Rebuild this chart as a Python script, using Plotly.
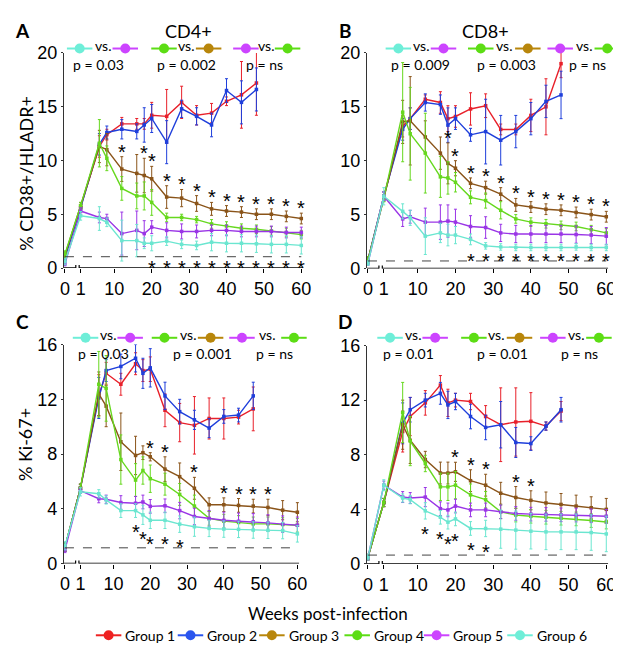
import plotly.graph_objects as go

W, H = 621, 646

# ---------------- data ----------------
weeks = [0, 1, 6, 8, 12, 16, 18, 20, 24, 28, 32, 36, 40, 44, 48, 52, 56, 60]
weeks_g12 = weeks[:15]          # groups 1 and 2 followed to week 48
tick_weeks = [0, 1, 10, 20, 30, 40, 50, 60]
group_names = ["Group 1", "Group 2", "Group 3", "Group 4", "Group 5", "Group 6"]

# Panel A : CD4+  % CD38+/HLADR+
a_g1 = [1.0, 5.6, 11.3, 12.4, 13.4, 13.4, 13.4, 14.2, 14.1, 15.4, 14.2, 14.4, 15.5, 16.1, 17.2]
a_g1_err = [0.3, 0.3, 1.0, 0.5, 0.6, 0.5, 0.5, 1.2, 2.5, 1.5, 0.9, 0.9, 0.4, 3.1, 3.0]
a_g2 = [1.0, 5.6, 11.5, 12.6, 12.9, 12.7, 13.3, 13.9, 11.7, 14.8, 14.1, 13.3, 16.5, 15.4, 16.6]
a_g2_err = [0.3, 0.3, 1.0, 0.6, 0.9, 0.7, 1.6, 1.3, 2.0, 0.8, 0.8, 1.1, 1.1, 2.0, 2.0]
a_g3 = [1.2, 5.8, 11.3, 11.0, 9.2, 8.8, 8.6, 8.3, 6.6, 6.5, 6.0, 5.5, 5.3, 5.2, 5.0, 5.0, 4.8, 4.6]
a_g3_err = [0.3, 0.3, 1.5, 1.5, 1.15, 1.75, 1.6, 1.15, 1.05, 0.8, 0.73, 0.6, 0.5, 0.5, 0.5, 0.5, 0.5, 0.5]
a_g4 = [1.3, 5.8, 11.6, 10.2, 7.4, 6.7, 6.7, 6.1, 4.7, 4.7, 4.5, 4.1, 3.9, 3.7, 3.6, 3.45, 3.3, 3.1]
a_g4_err = [0.3, 0.3, 2.2, 1.15, 1.1, 1.2, 1.3, 1.2, 0.4, 0.3, 0.3, 0.4, 0.4, 0.4, 0.4, 0.4, 0.4, 0.4]
a_g5 = [0.4, 5.3, 4.7, 4.6, 3.2, 3.5, 3.2, 3.8, 3.5, 3.4, 3.4, 3.5, 3.5, 3.4, 3.4, 3.4, 3.3, 3.3]
a_g5_err = [0.2, 0.3, 0.5, 0.4, 2.0, 1.8, 1.2, 0.6, 0.7, 0.7, 0.6, 0.5, 0.5, 0.5, 0.5, 0.5, 0.5, 0.5]
a_g6 = [0.6, 4.85, 4.6, 4.25, 2.55, 2.55, 2.3, 2.3, 2.5, 2.2, 2.1, 2.4, 2.3, 2.3, 2.25, 2.2, 2.2, 2.1]
a_g6_err = [0.3, 0.4, 1.1, 0.4, 1.9, 1.5, 0.5, 0.7, 0.4, 0.4, 0.4, 0.8, 0.8, 0.8, 0.8, 0.8, 0.8, 0.8]

# Panel B : CD8+  % CD38+/HLADR+
b_g1 = [0.8, 6.7, 13.2, 13.9, 15.7, 15.4, 13.9, 14.1, 14.8, 15.1, 12.9, 12.9, 14.2, 15.0, 19.0]
b_g1_err = [0.3, 0.4, 1.0, 1.0, 0.4, 1.0, 1.2, 1.0, 1.5, 1.1, 0.5, 0.5, 1.5, 2.6, 1.3]
b_g2 = [0.8, 6.7, 12.9, 13.9, 15.4, 15.2, 13.3, 13.9, 12.4, 12.7, 11.9, 12.7, 13.9, 15.5, 16.1]
b_g2_err = [0.3, 0.4, 1.0, 1.0, 0.8, 0.9, 1.6, 1.0, 0.6, 3.0, 2.3, 1.5, 1.5, 1.5, 2.2]
b_g3 = [0.8, 6.5, 13.6, 13.7, 12.2, 10.7, 9.75, 9.3, 7.9, 7.5, 6.9, 5.9, 5.7, 5.5, 5.4, 5.2, 5.0, 4.8]
b_g3_err = [0.3, 0.3, 2.0, 4.1, 1.5, 1.5, 1.9, 0.7, 0.5, 0.6, 0.6, 0.6, 0.5, 0.5, 0.5, 0.5, 0.5, 0.5]
b_g4 = [0.8, 6.5, 14.5, 12.5, 10.7, 8.5, 8.4, 8.0, 6.6, 6.3, 5.4, 4.6, 4.3, 4.15, 4.0, 3.9, 3.6, 3.3]
b_g4_err = [0.3, 0.3, 4.6, 4.3, 3.7, 1.9, 1.5, 0.9, 0.6, 0.7, 0.8, 0.4, 0.4, 0.4, 0.4, 0.4, 0.4, 0.4]
b_g5 = [0.5, 6.7, 4.6, 4.8, 4.3, 4.3, 4.4, 4.3, 3.9, 3.8, 3.3, 3.2, 3.2, 3.2, 3.2, 3.15, 3.1, 3.0]
b_g5_err = [0.2, 0.4, 0.7, 0.6, 1.3, 1.6, 1.5, 1.2, 1.0, 1.0, 0.8, 0.8, 0.8, 0.8, 0.8, 0.8, 0.8, 0.8]
b_g6 = [0.5, 6.7, 5.3, 4.7, 3.0, 3.3, 3.1, 3.1, 2.7, 2.1, 2.0, 1.95, 1.95, 1.95, 1.95, 2.0, 1.95, 1.95]
b_g6_err = [0.2, 0.8, 0.7, 0.7, 1.7, 0.9, 1.0, 0.8, 0.5, 0.3, 0.3, 0.3, 0.3, 0.3, 0.3, 0.3, 0.3, 0.3]

# Panel C : CD4+  % Ki-67+
c_g1 = [1.2, 5.5, 12.3, 13.9, 13.1, 14.6, 14.1, 14.2, 11.2, 10.3, 10.1, 10.6, 10.6, 10.7, 11.3]
c_g1_err = [0.3, 0.3, 1.5, 0.8, 0.8, 0.8, 0.8, 0.9, 1.2, 1.4, 2.1, 1.5, 1.5, 0.5, 1.6]
c_g2 = [1.2, 5.5, 12.1, 14.1, 14.4, 15.0, 13.9, 14.3, 12.25, 11.1, 10.5, 9.9, 10.75, 10.85, 12.25]
c_g2_err = [0.3, 0.3, 1.5, 0.8, 0.9, 1.0, 1.1, 1.4, 1.0, 0.9, 0.7, 0.7, 0.5, 0.5, 1.0]
c_g3 = [1.2, 5.5, 12.4, 11.5, 8.9, 7.9, 8.1, 7.8, 6.9, 6.35, 5.5, 4.3, 4.3, 4.25, 4.2, 4.1, 3.9, 3.75]
c_g3_err = [0.3, 0.3, 1.6, 1.5, 2.1, 1.4, 0.5, 0.3, 0.9, 1.0, 0.8, 0.5, 0.5, 0.5, 0.5, 0.6, 0.7, 0.7]
c_g4 = [1.2, 5.5, 13.1, 12.8, 7.6, 6.1, 6.8, 6.2, 5.8, 5.05, 4.2, 3.3, 3.1, 3.0, 2.9, 2.9, 2.85, 2.8]
c_g4_err = [0.3, 0.3, 2.4, 2.4, 1.8, 1.2, 1.0, 1.0, 0.8, 0.8, 0.8, 0.5, 0.5, 0.5, 0.5, 0.5, 0.5, 0.5]
c_g5 = [1.0, 5.33, 4.74, 4.7, 4.46, 4.41, 4.5, 4.18, 4.22, 3.87, 3.44, 3.28, 3.16, 3.09, 3.05, 2.97, 2.88, 2.8]
c_g5_err = [0.2, 0.2, 0.3, 0.3, 0.5, 0.5, 0.5, 0.5, 0.5, 0.6, 0.6, 0.6, 0.6, 0.6, 0.6, 0.6, 0.6, 0.6]
c_g6 = [1.3, 5.24, 5.1, 4.65, 3.87, 3.87, 3.56, 3.16, 3.16, 2.88, 2.69, 2.57, 2.52, 2.5, 2.45, 2.43, 2.41, 2.17]
c_g6_err = [0.3, 0.3, 0.3, 0.3, 0.5, 0.5, 0.7, 0.6, 0.6, 0.6, 0.7, 0.6, 0.6, 0.6, 0.6, 0.6, 0.6, 0.6]

# Panel D : CD8+  % Ki-67+
d_g1 = [0.5, 4.5, 9.7, 10.8, 11.8, 13.1, 11.8, 12.0, 11.9, 10.8, 10.2, 10.4, 10.45, 10.1, 11.2]
d_g1_err = [0.2, 0.3, 1.5, 1.4, 0.9, 0.7, 1.0, 0.5, 0.6, 0.8, 2.7, 2.5, 2.1, 0.3, 0.7]
d_g2 = [0.5, 4.5, 10.3, 11.3, 12.0, 12.5, 11.65, 11.9, 10.8, 10.0, 10.2, 8.9, 8.82, 10.1, 11.3]
d_g2_err = [0.2, 0.3, 1.5, 0.9, 0.5, 0.8, 1.0, 0.6, 0.9, 0.9, 1.7, 1.1, 0.5, 0.3, 0.9]
d_g3 = [0.5, 4.5, 10.2, 9.06, 7.65, 6.66, 6.66, 6.75, 6.1, 5.77, 5.18, 4.87, 4.66, 4.47, 4.36, 4.24, 4.12, 4.0]
d_g3_err = [0.2, 0.3, 1.8, 1.7, 0.6, 0.8, 0.8, 0.7, 0.8, 0.8, 0.8, 0.8, 0.7, 0.8, 0.8, 0.8, 0.8, 0.8]
d_g4 = [0.5, 4.5, 11.1, 9.0, 7.36, 5.65, 5.65, 5.77, 5.06, 4.71, 3.82, 3.58, 3.49, 3.42, 3.35, 3.3, 3.18, 3.07]
d_g4_err = [0.2, 0.3, 2.2, 1.8, 0.6, 1.0, 1.0, 1.0, 0.8, 0.6, 0.5, 0.5, 0.5, 0.5, 0.5, 0.5, 0.5, 0.5]
d_g5 = [0.5, 5.77, 4.9, 4.83, 4.9, 4.05, 3.96, 4.24, 3.96, 3.96, 3.82, 3.7, 3.65, 3.63, 3.6, 3.58, 3.53, 3.49]
d_g5_err = [0.2, 0.3, 0.4, 0.4, 0.7, 0.5, 0.5, 0.5, 0.5, 0.5, 0.5, 0.5, 0.5, 0.5, 0.5, 0.5, 0.5, 0.5]
d_g6 = [0.5, 5.77, 4.83, 4.71, 3.89, 3.42, 3.06, 3.3, 2.6, 2.6, 2.55, 2.48, 2.4, 2.35, 2.35, 2.35, 2.3, 2.2]
d_g6_err = [0.2, 0.4, 0.3, 0.3, 0.6, 0.5, 0.5, 0.5, 0.5, 0.6, 1.4, 1.4, 1.3, 1.3, 1.3, 1.3, 1.3, 1.3]

# weeks with significant differences (asterisks)
a_star_up = [12, 18, 20, 24, 28, 32, 36, 40, 44, 48, 52, 56, 60]
a_star_low = [20, 24, 28, 32, 36, 40, 44, 48, 52, 56, 60]
b_star_up = [18, 20, 24, 28, 32, 36, 40, 44, 48, 52, 56, 60]
b_star_low = [24, 28, 32, 36, 40, 44, 48, 52, 56, 60]
c_star_up = [20, 24, 32, 40, 44, 48, 52]
c_star_low = [16, 18, 20, 24, 28]
d_star_up = [20, 24, 28, 36, 40]
d_star_low = [12, 16, 18, 20, 24, 28]

# detection limit (dashed line)
baselines = [1.05, 0.7, 1.15, 0.65]

# comparisons shown at top of each panel
a_pvals = ["p = 0.03", "p = 0.002", "p = ns"]
b_pvals = ["p = 0.009", "p = 0.003", "p = ns"]
c_pvals = ["p = 0.03", "p = 0.001", "p = ns"]
d_pvals = ["p = 0.01", "p = 0.01", "p = ns"]
comparisons = [(6, 5), (4, 3), (5, 4)]

# ---------------- styles ----------------
line_colors = ["#e8202a", "#1f3fdb", "#8a5419", "#66d81e", "#9a35e6", "#6be6d0"]
key_colors = ["#ee2222", "#2a55ee", "#b8860b", "#5cdd14", "#cc44ff", "#6eeed8"]
TXT = "Lato, 'Noto Sans', sans-serif"
NUM = "'Liberation Sans Narrow', 'Liberation Sans', Arial, sans-serif"
STAR = "'Liberation Sans', Arial, sans-serif"

X0 = -3.2  # plotting position of week 0 (broken axis)


def xpos(w):
    return X0 if w == 0 else w


def px(x):
    return x / W


def py(y):
    return 1 - y / H


panels = [
    dict(letter="A", title="CD4+", means=[a_g1, a_g2, a_g3, a_g4, a_g5, a_g6],
         errs=[a_g1_err, a_g2_err, a_g3_err, a_g4_err, a_g5_err, a_g6_err],
         up=a_star_up, low=a_star_low, low_mode="level", low_level=0.5,
         ymax=20, ytv=[0, 5, 10, 15, 20], pv=a_pvals,
         box=(54, 295, 258, 36), row=31.5, prow=48,
         keys=[(69, 115.5, 92.5, 88), (155, 200.5, 177.5, 178), (238.5, 281, 259, 257)]),
    dict(letter="B", title="CD8+", means=[b_g1, b_g2, b_g3, b_g4, b_g5, b_g6],
         errs=[b_g1_err, b_g2_err, b_g3_err, b_g4_err, b_g5_err, b_g6_err],
         up=b_star_up, low=b_star_low, low_mode="level", low_level=1.2,
         ymax=20, ytv=[0, 5, 10, 15, 20], pv=b_pvals,
         box=(363, 606, 258.5, 36), row=31.5, prow=48,
         keys=[(394, 440, 417, 417), (478, 526, 502, 504), (559, 607, 583, 587)]),
    dict(letter="C", title=None, means=[c_g1, c_g2, c_g3, c_g4, c_g5, c_g6],
         errs=[c_g1_err, c_g2_err, c_g3_err, c_g4_err, c_g5_err, c_g6_err],
         up=c_star_up, low=c_star_low, low_mode="below", low_level=None,
         ymax=16, ytv=[0, 4, 8, 12, 16], pv=c_pvals,
         box=(54, 291, 563, 337), row=330, prow=346.5,
         keys=[(75, 120.5, 98, 93), (155.5, 202.5, 179, 194), (234.5, 287.5, 260, 268)]),
    dict(letter="D", title=None, means=[d_g1, d_g2, d_g3, d_g4, d_g5, d_g6],
         errs=[d_g1_err, d_g2_err, d_g3_err, d_g4_err, d_g5_err, d_g6_err],
         up=d_star_up, low=d_star_low, low_mode="below", low_level=None,
         ymax=16, ytv=[0, 4, 8, 12, 16], pv=d_pvals,
         box=(363, 606, 563.4, 338), row=330, prow=346.5,
         keys=[(385.5, 431.5, 408.5, 404), (471, 517.5, 494, 500), (551.5, 598.5, 575, 579)]),
]

fig = go.Figure()
layout = dict(width=W, height=H, margin=dict(l=0, r=0, t=0, b=0),
              paper_bgcolor="white", plot_bgcolor="white", showlegend=False)
shapes, annotations = [], []

for i, p in enumerate(panels):
    n = "" if i == 0 else str(i + 1)
    xa, ya = "x" + n, "y" + n
    x0p, x60p, y0p, ytp = p["box"]
    scale = (x60p - x0p) / (60 - X0)
    layout["xaxis" + n] = dict(
        domain=[px(x0p - 0.25 * scale), px(x60p + 0.5 * scale)],
        range=[X0 - 0.25, 60.5], anchor=ya, showgrid=False, zeroline=False,
        showline=False, tickmode="array", tickvals=[xpos(w) for w in tick_weeks],
        ticktext=[str(w) for w in tick_weeks], ticks="outside", ticklen=4,
        tickcolor="black", tickfont=dict(family=NUM, size=18, color="black"))
    layout["yaxis" + n] = dict(
        domain=[py(y0p), py(ytp)], range=[0, p["ymax"]], anchor=xa,
        showgrid=False, zeroline=False, showline=True, linecolor="#333", linewidth=1.4,
        tickmode="array", tickvals=p["ytv"], ticks="outside", ticklen=2,
        tickcolor="#333", tickfont=dict(family=NUM, size=18, color="black"))

    # data traces
    for g in range(6):
        wk = weeks_g12 if g < 2 else weeks
        fig.add_trace(go.Scatter(
            x=[xpos(w) for w in wk], y=p["means"][g], xaxis=xa, yaxis=ya,
            mode="lines+markers", name=group_names[g], cliponaxis=False,
            line=dict(color=line_colors[g], width=1.4),
            marker=dict(color=line_colors[g], size=3.5, symbol="square"),
            error_y=dict(type="data", array=p["errs"][g], visible=True,
                         color=line_colors[g], thickness=1, width=1.5)))

    # broken x axis line
    shapes.append(dict(type="line", xref=xa, yref=ya, x0=X0 - 0.25, x1=-0.3, y0=0, y1=0,
                       line=dict(color="black", width=1.4)))
    shapes.append(dict(type="line", xref=xa, yref=ya, x0=0.6, x1=60.5, y0=0, y1=0,
                       line=dict(color="black", width=1.4)))
    for xb in (-0.3, 0.6):
        shapes.append(dict(type="line", xref=xa, yref=ya, ysizemode="pixel", yanchor=0,
                           x0=xb, x1=xb, y0=-4, y1=3, line=dict(color="black", width=1.2)))
    # detection limit
    shapes.append(dict(type="line", xref=xa, yref=ya, x0=X0, x1=60, y0=baselines[i],
                       y1=baselines[i], line=dict(color="#444", width=1, dash="dash")))

    # asterisks
    up_mean, up_err = p["means"][2], p["errs"][2]
    for w in p["up"]:
        k = weeks.index(w)
        annotations.append(dict(xref=xa, yref=ya, x=xpos(w), y=up_mean[k] + up_err[k],
                                text="*", showarrow=False, yanchor="middle", yshift=5,
                                font=dict(family=STAR, size=20, color="black")))
    lo_mean, lo_err = p["means"][5], p["errs"][5]
    for w in p["low"]:
        k = weeks.index(w)
        if p["low_mode"] == "level":
            yv, sh = p["low_level"], -5
        else:
            yv, sh = lo_mean[k] - lo_err[k], -15
        annotations.append(dict(xref=xa, yref=ya, x=xpos(w), y=yv, text="*",
                                showarrow=False, yanchor="middle", yshift=sh,
                                font=dict(family=STAR, size=20, color="black")))

    # comparison keys
    for (ga, gb), (c1, c2, cv, cp), ptxt in zip(comparisons, p["keys"], p["pv"]):
        for gx, cx in ((ga, c1), (gb, c2)):
            col = key_colors[gx - 1]
            shapes.append(dict(type="line", xref="paper", yref="paper",
                               x0=px(cx - 13), x1=px(cx + 13), y0=py(p["row"]), y1=py(p["row"]),
                               line=dict(color=col, width=2)))
            shapes.append(dict(type="circle", xref="paper", yref="paper",
                               xsizemode="pixel", ysizemode="pixel",
                               xanchor=px(cx), yanchor=py(p["row"]), x0=-5, x1=5, y0=-5, y1=5,
                               fillcolor=col, line=dict(color=col, width=0)))
        annotations.append(dict(xref="paper", yref="paper", x=px(cv), y=py(p["row"] - 3),
                                text="vs.", showarrow=False, xanchor="center", yanchor="middle",
                                borderpad=0, font=dict(family=TXT, size=14, color="black")))
        annotations.append(dict(xref="paper", yref="paper", x=px(cp), y=py(p["prow"]),
                                text=ptxt, showarrow=False, xanchor="center", yanchor="middle",
                                borderpad=0, font=dict(family=TXT, size=14, color="black")))

    # panel letter and title
    lx = 11 if i % 2 == 0 else 340
    ly = 13 if i < 2 else 313
    annotations.append(dict(xref="paper", yref="paper", x=px(lx), y=py(ly), text="<b>%s</b>" % p["letter"],
                            showarrow=False, xanchor="center", yanchor="middle",
                            font=dict(family=TXT, size=19, color="black")))
    if p["title"]:
        tx = 180 if i == 0 else 483
        annotations.append(dict(xref="paper", yref="paper", x=px(tx), y=py(13), text=p["title"],
                                showarrow=False, xanchor="center", yanchor="middle",
                                font=dict(family=TXT, size=18, color="black")))

# y-axis titles
annotations.append(dict(xref="paper", yref="paper", x=px(14), y=py(160), text="% CD38+/HLADR+",
                        textangle=-90, showarrow=False, xanchor="center", yanchor="middle",
                        font=dict(family=TXT, size=18, color="black")))
annotations.append(dict(xref="paper", yref="paper", x=px(14), y=py(440), text="% Ki-67+",
                        textangle=-90, showarrow=False, xanchor="center", yanchor="middle",
                        font=dict(family=TXT, size=18, color="black")))
# x-axis title
annotations.append(dict(xref="paper", yref="paper", x=px(322), y=py(615), text="Weeks post-infection",
                        showarrow=False, xanchor="center", yanchor="middle",
                        font=dict(family=TXT, size=17, color="black")))

# bottom legend (key drawn manually)
legend_centers = [98.5, 182, 265, 352, 433, 518]
for g, cx in enumerate(legend_centers):
    col = key_colors[g]
    ly = 637
    shapes.append(dict(type="line", xref="paper", yref="paper", x0=px(cx - 13), x1=px(cx + 13),
                       y0=py(ly), y1=py(ly), line=dict(color=col, width=2)))
    shapes.append(dict(type="circle", xref="paper", yref="paper", xsizemode="pixel", ysizemode="pixel",
                       xanchor=px(cx), yanchor=py(ly), x0=-5, x1=5, y0=-5, y1=5,
                       fillcolor=col, line=dict(color=col, width=0)))
    annotations.append(dict(xref="paper", yref="paper", x=px(cx + 15), y=py(ly), text=group_names[g],
                            showarrow=False, xanchor="left", yanchor="middle",
                            font=dict(family=TXT, size=14, color="black")))

layout["shapes"] = shapes
layout["annotations"] = annotations
fig.update_layout(**layout)
fig.write_html("out.html")
